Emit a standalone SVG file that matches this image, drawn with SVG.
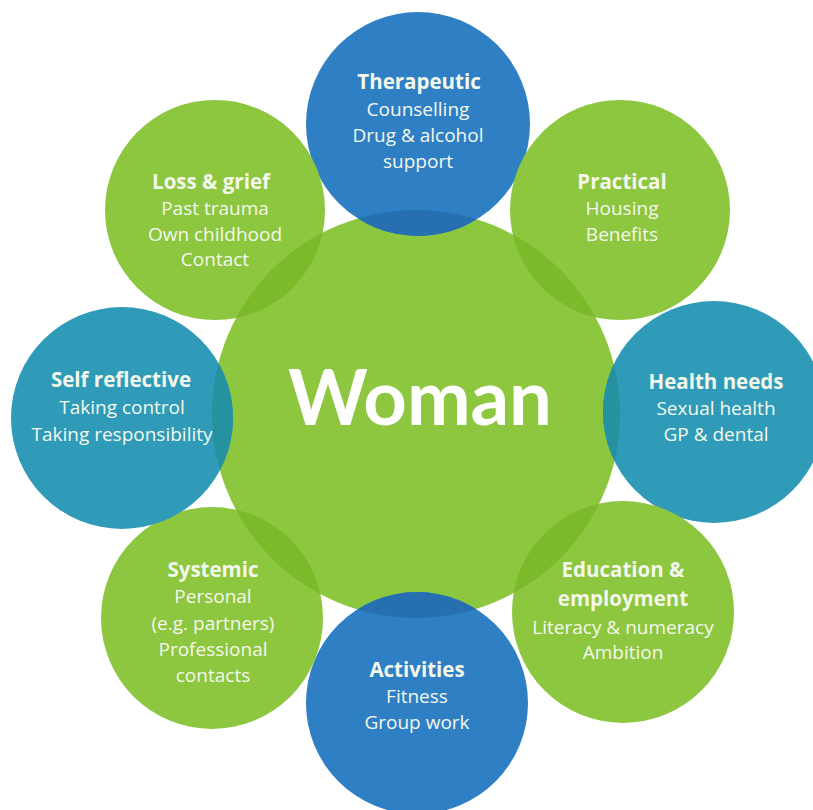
<svg xmlns="http://www.w3.org/2000/svg" width="813" height="810" viewBox="0 0 813 810">
  <defs>
    <clipPath id="core-clip">
      <circle cx="416" cy="414" r="204"/>
    </clipPath>
    <style>
      .green { fill: #8dc63f; }
      .blue { fill: #2f7fc4; }
      .teal { fill: #2f9bb8; }
      .green-lap { fill: #7bbb2b; }
      .blue-lap { fill: #2670b2; }
      .teal-lap { fill: #26919f; }
      text { font-family: "Open Sans", "Liberation Sans", sans-serif; fill: #f4f8ec; text-anchor: middle; }
      .title { font-size: 20.5px; font-weight: bold; }
      .line { font-size: 19px; }
      .core { font-family: Lato, "Liberation Sans", sans-serif; font-size: 76px; font-weight: bold; fill: #ffffff; }
    </style>
  </defs>
  <rect width="813" height="810" fill="#ffffff"/>

  <!-- central circle -->
  <g id="woman">
    <circle class="green" cx="416" cy="414" r="204"/>
  </g>

  <!-- surrounding circles, each with a darker lens where it overlaps the centre -->
  <g id="therapeutic">
    <circle class="blue" cx="418" cy="124" r="112"/>
    <circle class="blue-lap" cx="418" cy="124" r="112" clip-path="url(#core-clip)"/>
    <text class="title" x="419" y="89">Therapeutic</text>
    <text class="line" x="418" y="116">Counselling</text>
    <text class="line" x="418" y="142">Drug &amp; alcohol</text>
    <text class="line" x="418" y="168">support</text>
  </g>

  <g id="practical">
    <circle class="green" cx="620" cy="210" r="110"/>
    <circle class="green-lap" cx="620" cy="210" r="110" clip-path="url(#core-clip)"/>
    <text class="title" x="622" y="189">Practical</text>
    <text class="line" x="622" y="215">Housing</text>
    <text class="line" x="622" y="241">Benefits</text>
  </g>

  <g id="health-needs">
    <circle class="teal" cx="714" cy="412" r="111"/>
    <circle class="teal-lap" cx="714" cy="412" r="111" clip-path="url(#core-clip)"/>
    <text class="title" x="716" y="389">Health needs</text>
    <text class="line" x="716" y="415">Sexual health</text>
    <text class="line" x="716" y="441">GP &amp; dental</text>
  </g>

  <g id="education-employment">
    <circle class="green" cx="623" cy="612" r="111"/>
    <circle class="green-lap" cx="623" cy="612" r="111" clip-path="url(#core-clip)"/>
    <text class="title" x="623" y="577">Education &amp;</text>
    <text class="title" x="623" y="606">employment</text>
    <text class="line" x="623" y="634">Literacy &amp; numeracy</text>
    <text class="line" x="623" y="659">Ambition</text>
  </g>

  <g id="activities">
    <circle class="blue" cx="417" cy="703" r="111"/>
    <circle class="blue-lap" cx="417" cy="703" r="111" clip-path="url(#core-clip)"/>
    <text class="title" x="417" y="677">Activities</text>
    <text class="line" x="417" y="703">Fitness</text>
    <text class="line" x="417" y="729">Group work</text>
  </g>

  <g id="systemic">
    <circle class="green" cx="212" cy="618" r="111"/>
    <circle class="green-lap" cx="212" cy="618" r="111" clip-path="url(#core-clip)"/>
    <text class="title" x="213" y="577">Systemic</text>
    <text class="line" x="213" y="603">Personal</text>
    <text class="line" x="213" y="630">(e.g. partners)</text>
    <text class="line" x="213" y="656">Professional</text>
    <text class="line" x="213" y="682">contacts</text>
  </g>

  <g id="self-reflective">
    <circle class="teal" cx="122" cy="418" r="111"/>
    <circle class="teal-lap" cx="122" cy="418" r="111" clip-path="url(#core-clip)"/>
    <text class="title" x="121" y="387">Self reflective</text>
    <text class="line" x="122" y="414">Taking control</text>
    <text class="line" x="122" y="441">Taking responsibility</text>
  </g>

  <g id="loss-grief">
    <circle class="green" cx="215" cy="210" r="110"/>
    <circle class="green-lap" cx="215" cy="210" r="110" clip-path="url(#core-clip)"/>
    <text class="title" x="211" y="189">Loss &amp; grief</text>
    <text class="line" x="215" y="215">Past trauma</text>
    <text class="line" x="215" y="241">Own childhood</text>
    <text class="line" x="215" y="266">Contact</text>
  </g>

  <!-- centre label drawn last so it sits above every lens -->
  <g id="woman-label">
    <text class="core" x="420" y="425">Woman</text>
  </g>
</svg>
